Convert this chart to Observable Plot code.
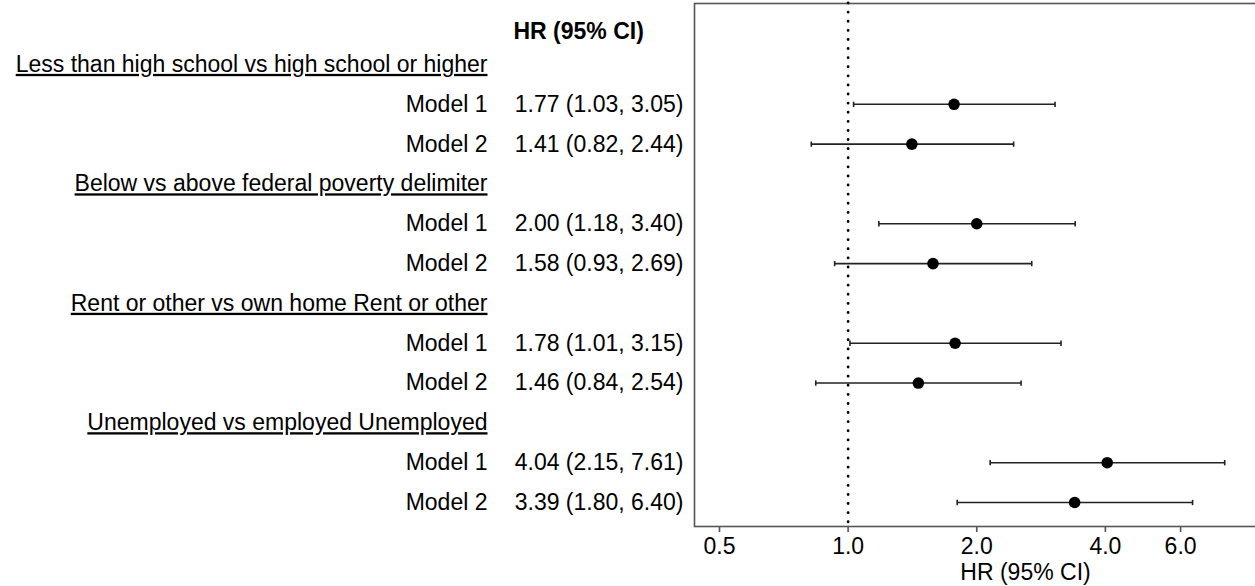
<!DOCTYPE html>
<html>
<head>
<meta charset="utf-8">
<script src="https://cdn.jsdelivr.net/npm/d3@7"></script>
<script src="https://cdn.jsdelivr.net/npm/@observablehq/plot@0.6"></script>
<style>
  html, body { margin: 0; padding: 0; background: #fff; overflow: hidden; }
  #chart { width: 1255px; height: 586px; overflow: hidden; }
  #chart svg { max-width: none !important; }
</style>
</head>
<body>
<div id="chart"></div>
<script>
// ---- data ----
const groups = [
  "Less than high school vs high school or higher",
  "Below vs above federal poverty delimiter",
  "Rent or other vs own home Rent or other",
  "Unemployed vs employed Unemployed"
];
const models = ["Model 1", "Model 2"];
const hr = [1.77, 1.41, 2.00, 1.58, 1.78, 1.46, 4.04, 3.39];
const lo = [1.03, 0.82, 1.18, 0.93, 1.01, 0.84, 2.15, 1.80];
const hi = [3.05, 2.44, 3.40, 2.69, 3.15, 2.54, 7.61, 6.40];
const xTicks = [0.5, 1, 2, 4, 6];
const headerLabel = "HR (95% CI)";
const axisLabel = "HR (95% CI)";

// ---- build rows ----
const f2 = d3.format(".2f");
const rows = [];
const est = [];
groups.forEach((g, gi) => {
  rows.push({id: "g" + gi, label: g, group: true});
  models.forEach((m, mi) => {
    const i = gi * models.length + mi;
    const id = "g" + gi + "m" + mi;
    rows.push({id, label: m, group: false});
    est.push({id, hr: hr[i], lo: lo[i], hi: hi[i],
      text: `${f2(hr[i])} (${f2(lo[i])}, ${f2(hi[i])})`});
  });
});
const ids = rows.map(d => d.id);

const capSymbol = {
  draw(ctx, size) {
    const h = Math.sqrt(size) / 2;
    ctx.moveTo(0, -h);
    ctx.lineTo(0, h);
  }
};

const font = "'Liberation Sans', Arial, Helvetica, sans-serif";

const chart = Plot.plot({
  width: 1258,
  height: 586,
  marginLeft: 694,
  marginRight: 0,
  marginTop: 3,
  marginBottom: 60,
  style: {fontFamily: font, fontSize: "23px", color: "#000", background: "#fff", overflow: "visible", maxWidth: "none"},
  x: {type: "log", domain: [0.437, 9.13]},
  y: {type: "point", domain: ids, range: [64, 502], padding: 0, round: false, axis: null},
  marks: [
    Plot.frame({stroke: "#555", strokeWidth: 1.6}),
    Plot.ruleX([1], {stroke: "#000", strokeWidth: 2.8, strokeDasharray: "0.1,9", strokeLinecap: "round"}),
    Plot.axisX({ticks: xTicks, tickFormat: d3.format(".1f"), tickSize: 6, tickPadding: 5,
      fontSize: 23, label: null, stroke: "#555", strokeWidth: 1.6, fill: "#000"}),
    Plot.link(est, {x1: "lo", x2: "hi", y1: "id", y2: "id", stroke: "#222", strokeWidth: 1.6}),
    Plot.dot(est, {x: "lo", y: "id", symbol: capSymbol, r: 3, stroke: "#222", strokeWidth: 1.6, fill: "none"}),
    Plot.dot(est, {x: "hi", y: "id", symbol: capSymbol, r: 3, stroke: "#222", strokeWidth: 1.6, fill: "none"}),
    Plot.dot(est, {x: "hr", y: "id", r: 5.8, fill: "#000", stroke: "none"}),
    Plot.text(rows, {y: "id", text: "label", frameAnchor: "left", textAnchor: "end", dx: -207, fill: "#000"}),
    Plot.text(est, {y: "id", text: "text", frameAnchor: "left", textAnchor: "end", dx: -11, fill: "#000"}),
    Plot.text([headerLabel], {text: d => d, frameAnchor: "top-left", textAnchor: "start", lineAnchor: "middle",
      dx: -181, dy: 28, fontWeight: "bold", fill: "#000"}),
    Plot.text([axisLabel], {text: d => d, frameAnchor: "bottom", lineAnchor: "middle", dx: 49, dy: 46, fill: "#000"})
  ]
});

const groupSet = new Set(groups);
d3.select(chart).selectAll("text")
  .filter(function() { return groupSet.has(this.textContent); })
  .style("text-decoration", "underline");
chart.style.maxWidth = "none";

document.getElementById("chart").appendChild(chart);
</script>
</body>
</html>
